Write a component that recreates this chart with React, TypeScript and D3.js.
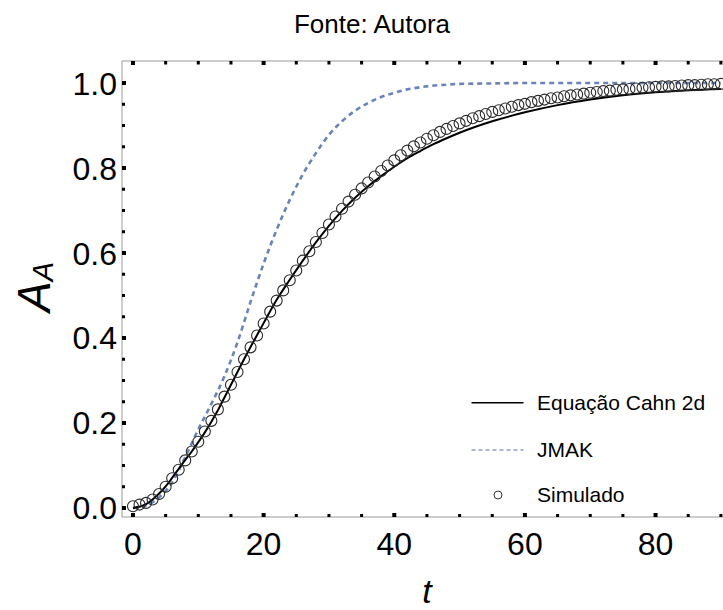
import React from "react";
import * as d3 from "d3";

const cahnT = [0,1,2,3,4,5,6,7,8,9,10,11,12,13,14,15,16,17,18,19,20,22,24,26,28,30,32,34,36,38,40,42,44,46,48,50,55,60,65,70,75,80,85,90];
const cahnA = [0,0.003,0.009,0.02,0.034,0.051,0.071,0.092,0.113,0.133,0.155,0.178,0.203,0.23,0.26,0.29,0.32,0.35,0.379,0.407,0.435,0.49,0.537,0.582,0.625,0.664,0.699,0.73,0.757,0.781,0.803,0.823,0.84,0.856,0.87,0.883,0.91,0.931,0.948,0.961,0.971,0.978,0.983,0.986];

const jmakT = [0,2,4,6,8,10,12,14,16,18,20,22,24,26,28,30,32,34,36,38,40,42,44,46,48,50,55,60,70,80,90];
const jmakA = [0,0.006,0.025,0.06,0.12,0.185,0.245,0.31,0.39,0.485,0.575,0.655,0.725,0.785,0.835,0.878,0.91,0.935,0.953,0.967,0.977,0.985,0.99,0.994,0.996,0.998,0.999,1.0,1.0,1.0,1.0];

const simT = [0,1,2,3,4,5,6,7,8,9,10,11,12,13,14,15,16,17,18,19,20,21,22,23,24,25,26,27,28,29,30,31,32,33,34,35,36,37,38,39,40,41,42,43,44,45,46,47,48,49,50,51,52,53,54,55,56,57,58,59,60,61,62,63,64,65,66,67,68,69,70,71,72,73,74,75,76,77,78,79,80,81,82,83,84,85,86,87,88,89,90];
const simA = [0.004,0.008,0.012,0.02,0.033,0.05,0.07,0.09,0.112,0.133,0.156,0.18,0.205,0.232,0.262,0.29,0.32,0.35,0.378,0.406,0.434,0.462,0.488,0.512,0.536,0.559,0.582,0.604,0.626,0.647,0.667,0.686,0.704,0.721,0.737,0.752,0.766,0.78,0.793,0.806,0.818,0.83,0.841,0.851,0.86,0.869,0.877,0.885,0.892,0.899,0.905,0.911,0.917,0.922,0.927,0.932,0.936,0.94,0.944,0.948,0.951,0.955,0.958,0.961,0.964,0.966,0.969,0.971,0.973,0.975,0.977,0.979,0.981,0.982,0.984,0.985,0.986,0.987,0.989,0.99,0.991,0.992,0.992,0.993,0.994,0.995,0.995,0.996,0.997,0.997,0.998];

const xMajor = [0, 20, 40, 60, 80];
const xMinor = [5, 10, 15, 25, 30, 35, 45, 50, 55, 65, 70, 75, 85, 90];
const yMajor = [0, 0.2, 0.4, 0.6, 0.8, 1.0];
const yMinor = [0.05, 0.1, 0.15, 0.25, 0.3, 0.35, 0.45, 0.5, 0.55, 0.65, 0.7, 0.75, 0.85, 0.9, 0.95];

const legendLabels = ["Equação Cahn 2d", "JMAK", "Simulado"];
const title = "Fonte: Autora";

export default function App() {
  const W = 723, H = 610;
  const left = 122, right = 723.5, top = 61, bottom = 517;
  const x = d3.scaleLinear().domain([-1.68, 90.4]).range([left, right]);
  const y = d3.scaleLinear().domain([-0.0212, 1.0518]).range([bottom, top]);
  const font = "'Liberation Sans', Arial, sans-serif";

  const line = d3.line<[number, number]>()
    .x((d) => x(d[0]))
    .y((d) => y(d[1]))
    .curve(d3.curveMonotoneX);

  const cahnPath = line(cahnT.map((t, i) => [t, cahnA[i]] as [number, number])) || "";
  const jmakPath = line(jmakT.map((t, i) => [t, jmakA[i]] as [number, number])) || "";

  return (
    <svg width={W} height={H} style={{ position: "absolute", left: 0, top: 0, background: "#fff" }}>
      <rect x={0} y={0} width={W} height={H} fill="#fff" />
      <text x={372} y={33} fontFamily={font} fontSize={26} textAnchor="middle" fill="#000">{title}</text>

      <defs>
        <clipPath id="plotclip">
          <rect x={left} y={top} width={right - left} height={bottom - top} />
        </clipPath>
      </defs>

      {/* frame */}
      <line x1={left} y1={top} x2={W} y2={top} stroke="#999" strokeWidth={1} />
      <line x1={left} y1={bottom} x2={W} y2={bottom} stroke="#999" strokeWidth={1} />
      <line x1={left} y1={top} x2={left} y2={bottom} stroke="#999" strokeWidth={1} />

      {/* x ticks bottom & top */}
      {xMajor.map((t) => (
        <g key={"xM" + t}>
          <rect x={x(t) - 2} y={bottom - 4} width={4} height={4} fill="#000" />
          <rect x={x(t) - 2} y={top} width={4} height={4} fill="#000" />
        </g>
      ))}
      {xMinor.map((t) => (
        <g key={"xm" + t}>
          <rect x={x(t) - 1.5} y={bottom - 3} width={3} height={3} fill="#000" />
          <rect x={x(t) - 1.5} y={top} width={3} height={3.5} fill="#000" />
        </g>
      ))}
      {/* y ticks */}
      {yMajor.map((v) => (
        <rect key={"yM" + v} x={left} y={y(v) - 2} width={4} height={4} fill="#000" />
      ))}
      {yMinor.map((v) => (
        <rect key={"ym" + v} x={left} y={y(v) - 1.5} width={3} height={3} fill="#000" />
      ))}

      {/* tick labels */}
      {xMajor.map((t) => (
        <text key={"xl" + t} x={x(t)} y={555} fontFamily={font} fontSize={32} textAnchor="middle" fill="#000">{t}</text>
      ))}
      {yMajor.map((v) => (
        <text key={"yl" + v} x={117} y={y(v) + 11.5} fontFamily={font} fontSize={32} textAnchor="end" fill="#000">{v.toFixed(1)}</text>
      ))}

      {/* axis titles */}
      <text x={427} y={603} fontFamily={font} fontSize={34} fontStyle="italic" textAnchor="middle" fill="#000">t</text>
      <text transform="translate(50,287) rotate(-90)" fontFamily={font} fontSize={46} fontStyle="italic" textAnchor="middle" fill="#000">
        A<tspan fontSize={29} dy={3}>A</tspan>
      </text>

      <g clipPath="url(#plotclip)">
        <path d={jmakPath} fill="none" stroke="#6A83B8" strokeWidth={2.6} strokeDasharray="5,4" />
        <path d={cahnPath} fill="none" stroke="#000" strokeWidth={2} />
        {simT.map((t, i) => (
          <circle key={"c" + t} cx={x(t)} cy={y(simA[i])} r={5.5} fill="none" stroke="#2a2a2a" strokeWidth={1.1} />
        ))}
      </g>

      {/* legend */}
      <line x1={471.5} y1={402.7} x2={523.5} y2={402.7} stroke="#000" strokeWidth={1.5} />
      <text x={537} y={410} fontFamily={font} fontSize={21} fill="#000">{legendLabels[0]}</text>
      <line x1={471.5} y1={450} x2={523.5} y2={450} stroke="#8FA0C4" strokeWidth={1.5} strokeDasharray="4,3" />
      <text x={537} y={457} fontFamily={font} fontSize={21} fill="#000">{legendLabels[1]}</text>
      <circle cx={498} cy={495} r={4} fill="none" stroke="#333" strokeWidth={1} />
      <text x={537} y={502} fontFamily={font} fontSize={21} fill="#000">{legendLabels[2]}</text>
    </svg>
  );
}
